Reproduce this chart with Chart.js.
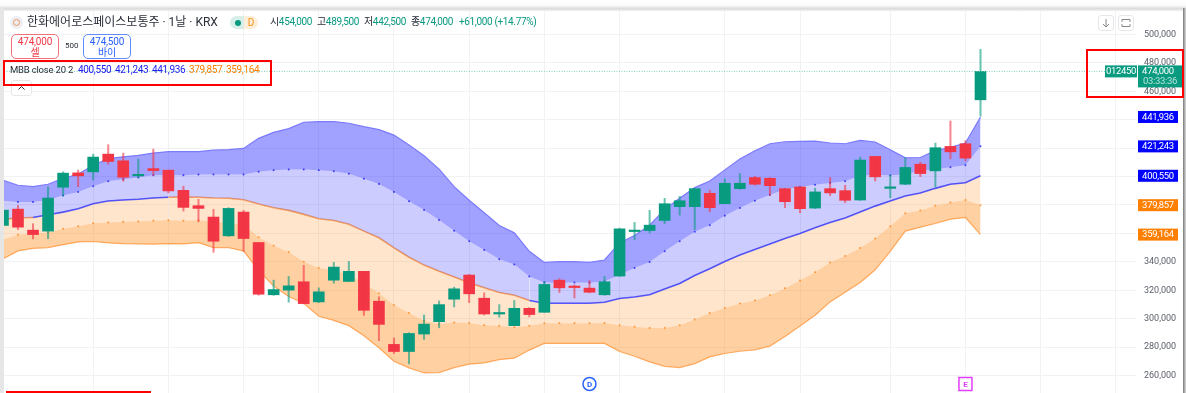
<!DOCTYPE html>
<html lang="ko">
<head>
<meta charset="utf-8">
<title>MBB close 20 2</title>
<script src="https://cdn.jsdelivr.net/npm/chart.js@4"></script>
<style>
  html, body { margin: 0; padding: 0; background: #fff; overflow: hidden; }
  body { width: 1186px; height: 393px; position: relative; font-family: Roboto, "Noto Sans CJK KR", sans-serif; }
  canvas { position: absolute; left: 0; top: 0; }
  .ui { position: absolute; white-space: nowrap; }
  .frame-top { left: 0; top: 0; width: 1186px; height: 11px; background: linear-gradient(#fff, #fafafa 50%, #dcdcdc 78%, #f0f0f0); }
  .frame-left { left: 0; top: 8px; width: 4px; height: 385px; background: #e6e6e6; }
  .frame-right { left: 1183px; top: 8px; width: 3px; height: 385px; background: linear-gradient(90deg, #777, #ddd); }
  .mark { border: 2px solid #f00; box-sizing: border-box; }
  .order { box-sizing: border-box; width: 48px; height: 25px; border-radius: 5px; background: #fff; text-align: center; font-size: 10px; line-height: 11px; padding-top: 1px; letter-spacing: -0.2px; }
  .btn { box-sizing: border-box; width: 16px; height: 16px; border: 1px solid #e6e7ea; border-radius: 3px; background: #fff; }
  .btn svg { display: block; }
  .num { position: absolute; top: 15px; font-size: 10px; line-height: 14px; letter-spacing: -0.35px; color: #2a2e39; white-space: nowrap; }
  .num span { color: #089981; }
  .val { position: absolute; top: 63px; font-size: 10px; line-height: 14px; letter-spacing: -0.35px; white-space: nowrap; }
</style>
</head>
<body>
<canvas id="chart" width="1186" height="399"></canvas>

<div class="ui frame-top"></div>
<div class="ui frame-left"></div>
<div class="ui frame-right"></div>

<div class="ui" style="left:10px;top:16px;width:13px;height:13px;border-radius:50%;background:#eceef3;"></div>
<div class="ui" style="left:13px;top:19px;width:7px;height:7px;border-radius:50%;border:1.5px solid #f0965a;box-sizing:border-box;"></div>
<div class="ui" style="left:27px;top:13px;font-size:12px;line-height:18px;color:#2a2e39;">한화에어로스페이스보통주 · 1날 · KRX</div>
<div class="ui" style="left:230px;top:16px;width:14px;height:13px;background:#d8efe9;border-radius:7px 0 0 7px;"></div>
<div class="ui" style="left:244px;top:16px;width:14px;height:13px;background:#fdeeda;border-radius:0 7px 7px 0;color:#f7931a;font-size:10px;line-height:13px;text-align:center;">D</div>
<div class="ui" style="left:235px;top:20px;width:6px;height:6px;border-radius:50%;background:#089981;"></div>
<div class="num" style="left:270px;">시<span>454,000</span></div>
<div class="num" style="left:317px;">고<span>489,500</span></div>
<div class="num" style="left:364px;">저<span>442,500</span></div>
<div class="num" style="left:411px;">종<span>474,000</span></div>
<div class="num" style="left:459px;"><span>+61,000 (+14.77%)</span></div>

<div class="ui order" style="left:11px;top:34px;border:1px solid #f2707c;color:#f23645;">474,000<br>셀</div>
<div class="ui" style="left:65px;top:41px;font-size:8px;line-height:10px;color:#2a2e39;">500</div>
<div class="ui order" style="left:83px;top:34px;border:1px solid #5f8dff;color:#2962ff;">474,500<br>바이</div>

<div class="ui" style="left:10px;top:63px;font-size:9.5px;line-height:14px;color:#2a2e39;letter-spacing:-0.2px;">MBB close 20 2</div>
<div class="val" style="left:78px;color:#2020f0;">400,550</div>
<div class="val" style="left:115px;color:#2020f0;">421,243</div>
<div class="val" style="left:152px;color:#2020f0;">441,936</div>
<div class="val" style="left:189px;color:#ff7f00;">379,857</div>
<div class="val" style="left:226px;color:#ff7f00;">359,164</div>
<div class="ui btn" style="left:11px;top:80px;width:21px;"><svg width="19" height="14"><path d="M6.5 8.5 L9.5 5.5 L12.5 8.5" fill="none" stroke="#333" stroke-width="1"/></svg></div>
<div class="ui btn" style="left:1098px;top:15px;"><svg width="14" height="14"><path d="M7 3 V11 M4 8 L7 11 L10 8" fill="none" stroke="#888" stroke-width="1"/></svg></div>
<div class="ui btn" style="left:1118px;top:15px;"><svg width="14" height="14"><path d="M3 6 V3.5 H11 V6 M3 8 V10.5 H11 V8" fill="none" stroke="#888" stroke-width="1"/></svg></div>

<div class="ui mark" style="left:3px;top:60px;width:269px;height:26px;"></div>
<div class="ui mark" style="left:1086px;top:49px;width:98px;height:49px;"></div>
<div class="ui" style="left:6px;top:391px;width:145px;height:2px;background:#f00;"></div>

<script>
const candleTickIdx = [5, 10, 15, 20, 25, 30, 35, 40, 47, 52, 58, 63, 68, 73];
const priceTicks = [260000, 280000, 300000, 320000, 340000, 360000, 380000, 400000, 420000, 440000, 460000, 480000, 500000];
const hiddenPriceLabels = [360000, 380000, 400000, 420000, 440000];

const opens = [365600, 377100, 362300, 361600, 392500, 402600, 403300, 415800, 411100, 400500,
  405600, 404500, 390300, 379500, 371500, 358300, 375000, 353600, 316800, 320100,
  326000, 311800, 327100, 326200, 333300, 312300, 281900, 276900, 289200, 297900,
  313700, 330700, 314400, 303300, 295100, 307300, 304500, 327100, 322400, 321500,
  316800, 330000, 361300, 362000, 369100, 378800, 378800, 388200, 380900, 391500,
  399300, 398800, 391500, 392700, 377800, 391500, 390100, 383500, 414200, 391700,
  394600, 408700, 404000, 421200, 423100, 454000];
const highs = [376400, 379700, 366800, 392700, 403300, 404500, 415800, 422400, 416500, 412300,
  419300, 404500, 393200, 384000, 376900, 378100, 376200, 353600, 327100, 329700,
  337500, 321700, 339600, 340300, 333300, 315400, 286400, 290100, 302600, 312500,
  322200, 331200, 318200, 309900, 312800, 307800, 326200, 328100, 323800, 326900,
  329700, 363700, 367700, 376200, 384700, 386100, 391500, 390400, 398400, 402100,
  400200, 399300, 391500, 392700, 391800, 399300, 393900, 413700, 414200, 401200,
  413200, 410100, 423600, 439100, 425200, 489500];
const lows = [365600, 362700, 356100, 356400, 386300, 392900, 397600, 408700, 396700, 399300,
  400900, 388500, 375700, 368200, 346700, 357800, 347400, 316500, 316500, 311600,
  310400, 311300, 325000, 326200, 302400, 284500, 275500, 268200, 285400, 293600,
  308300, 311300, 302600, 301000, 295100, 301200, 304500, 318400, 314600, 318200,
  316500, 329700, 355700, 360400, 367000, 372900, 362700, 375200, 380900, 391000,
  393900, 386800, 378100, 374500, 377600, 386600, 381600, 383300, 396900, 385100,
  394300, 400000, 392700, 412500, 411100, 442500];
const closes = [376400, 364400, 359200, 384900, 402400, 400500, 413700, 410600, 399500, 400900,
  404200, 389900, 378300, 377600, 354500, 377600, 356400, 317200, 320500, 323100,
  310600, 318900, 336300, 333300, 305900, 296000, 276900, 289600, 296200, 309900,
  321000, 317500, 303300, 304000, 307300, 302900, 324100, 321700, 321900, 318600,
  326000, 363200, 362000, 365800, 380900, 383000, 391500, 378100, 395300, 395300,
  394600, 393600, 382300, 377400, 389200, 388500, 383300, 411600, 399800, 392400,
  406400, 402100, 420300, 417400, 413000, 474000];

const upperBand = [397400, 393900, 392900, 394600, 398800, 401600, 408000, 412700, 413900, 414900,
  416500, 417500, 417500, 417500, 418600, 418900, 419800, 426900, 431100, 433700,
  438200, 438700, 438700, 437500, 435100, 433000, 429200, 422200, 414600, 405200,
  392900, 383300, 374500, 365600, 360400, 347400, 339600, 340100, 340100, 339600,
  341300, 353300, 358500, 365800, 376900, 384700, 392200, 396900, 404700, 412300,
  418200, 423100, 424500, 424800, 425000, 423600, 423100, 425500, 424300, 418900,
  413200, 413400, 418200, 420500, 423600, 441936];
const midUpper = [382800, 382100, 382100, 383500, 386600, 389200, 393200, 396700, 398100, 399300,
  400900, 400900, 400900, 401400, 401400, 401400, 401400, 403300, 404500, 405000,
  405000, 404500, 403800, 401900, 398400, 394800, 389200, 382600, 376400, 369400,
  361800, 354500, 348400, 341800, 338200, 329700, 325500, 325300, 325500, 325300,
  326200, 330900, 335600, 339900, 347400, 354500, 361100, 365800, 372400, 377800,
  383000, 387000, 391000, 392700, 394300, 395500, 396700, 400500, 401200, 400700,
  401600, 404000, 405200, 406600, 408000, 421243];
const basis = [369800, 370800, 371200, 373100, 375000, 377400, 380900, 382800, 383500, 384000,
  384900, 385400, 385600, 385400, 384900, 384700, 383700, 380700, 378100, 376200,
  373400, 370300, 369100, 366500, 361600, 356900, 349800, 343200, 337700, 333300,
  329300, 325300, 321700, 318400, 316500, 312800, 310900, 310900, 310900, 310900,
  311600, 314200, 315300, 316800, 320800, 324800, 330400, 335200, 340300, 344800,
  348600, 352600, 356400, 359900, 363900, 367700, 370800, 375000, 379200, 382800,
  386300, 388400, 391700, 394600, 395700, 400550];
const midLower = [355700, 359000, 359700, 360600, 363200, 365100, 367200, 367700, 368200, 368400,
  368900, 369300, 368900, 369300, 368200, 367500, 366300, 357300, 351400, 347000,
  340100, 335600, 334000, 330900, 325000, 317900, 309700, 304000, 298600, 296200,
  297400, 297000, 295300, 295100, 293900, 295100, 296700, 296700, 296700, 296700,
  297000, 295300, 294400, 293400, 293400, 295300, 299500, 304000, 307600, 310600,
  312800, 316500, 321500, 326900, 332600, 339600, 344100, 349800, 356400, 365100,
  374100, 376200, 379500, 381800, 383500, 379857];
const lowerBand = [342000, 347700, 349500, 350000, 352100, 354000, 354300, 353300, 352800, 352600,
  352400, 352800, 352600, 353500, 350000, 350000, 347700, 334000, 322900, 315600,
  310900, 301700, 298800, 295100, 288000, 279500, 270100, 265400, 261800, 262100,
  265600, 268000, 268900, 271200, 272200, 277900, 282600, 282600, 282600, 282600,
  282600, 276900, 273600, 269600, 266500, 265600, 268400, 273100, 275500, 277100,
  278100, 280700, 287500, 294800, 302400, 311800, 318600, 325500, 334400, 347400,
  361600, 364400, 367000, 370000, 371200, 359164];

const bandLabels = ["441,936", "421,243", "400,550", "379,857", "359,164"];
const bandLabelValues = [441936, 421243, 400550, 379857, 359164];
const bandLabelColors = ["#0000ff", "#0000ff", "#0000ff", "#ff7f00", "#ff7f00"];
const lastPrice = 474000;
const lastPriceText = "474,000";
const countdownText = "03:33:36";
const symbolCode = "012450";
const eventMarkers = [{ idx: 38, text: "D", color: "#2962ff" }, { idx: 63, text: "E", color: "#e040fb" }];

const UP_COLOR = "#089b7f";
const DOWN_COLOR = "#f23645";
const candleIdx = opens.map((_, i) => i - 1);

function pts(values) {
  return values.map((v, i) => ({ x: candleIdx[i], y: v }));
}

// the basis line changes colour along the way
function basisColor(ctx) {
  const i = candleIdx[ctx.p0DataIndex];
  if (i < 1) return "#ffa45c";
  if (i < 10) return "#5c5cf5";
  if (i < 34) return "#ffa45c";
  return "#5c5cf5";
}

// tags, dotted price line and event markers on top of the data
const overlayPlugin = {
  id: "overlay",
  afterDatasetsDraw(chart) {
    const { ctx, scales, chartArea } = chart;
    const y = scales.y, x = scales.x;
    ctx.save();

    const py = y.getPixelForValue(lastPrice);
    ctx.strokeStyle = "#7fcfbf";
    ctx.setLineDash([1, 1.5]);
    ctx.beginPath();
    ctx.moveTo(chartArea.left, py);
    ctx.lineTo(1105, py);
    ctx.stroke();
    ctx.setLineDash([]);

    ctx.textAlign = "center";
    ctx.textBaseline = "middle";
    ctx.font = "9.5px Roboto";
    ctx.letterSpacing = "-0.3px";
    bandLabelValues.forEach((v, i) => {
      const ty = y.getPixelForValue(v);
      ctx.fillStyle = bandLabelColors[i];
      ctx.fillRect(1138, ty - 6, 40, 12);
      ctx.fillStyle = "#fff";
      ctx.fillText(bandLabels[i], 1158, ty + 0.5);
    });

    ctx.fillStyle = UP_COLOR;
    ctx.fillRect(1105, py - 6, 32, 12);
    ctx.fillRect(1138, py - 6, 44, 22);
    ctx.fillStyle = "#fff";
    ctx.fillText(symbolCode, 1121, py + 0.5);
    ctx.fillText(lastPriceText, 1158, py + 0.5);
    ctx.fillStyle = "#b5e3d9";
    ctx.fillText(countdownText, 1160, py + 10.5);
    ctx.letterSpacing = "0px";

    ctx.font = "bold 8px Roboto";
    eventMarkers.forEach(m => {
      const mx = x.getPixelForValue(m.idx);
      ctx.strokeStyle = m.color;
      ctx.fillStyle = "#fff";
      ctx.lineWidth = 1.5;
      ctx.beginPath();
      if (m.text === "D") ctx.arc(mx, 384, 6.5, 0, Math.PI * 2);
      else ctx.rect(mx - 6.5, 377.5, 13, 13);
      ctx.fill();
      ctx.stroke();
      ctx.fillStyle = m.color;
      ctx.fillText(m.text, mx, 384.5);
    });
    ctx.restore();
  }
};

new Chart(document.getElementById("chart").getContext("2d"), {
  data: {
    datasets: [
      { type: "line", label: "upper", data: pts(upperBand), order: 1, borderColor: "#7a7afc", borderWidth: 1.2, pointRadius: 0, tension: 0, fill: { target: "+1" }, backgroundColor: "rgba(0,0,255,0.37)" },
      { type: "line", label: "mid upper", data: pts(midUpper), order: 1, borderWidth: 0, pointRadius: 1, pointBackgroundColor: "#4a4af5", pointBorderWidth: 0, fill: { target: "+1" }, backgroundColor: "rgba(0,0,255,0.2)" },
      { type: "line", label: "basis", data: pts(basis), order: 1, borderColor: "#5c5cf5", borderWidth: 1.6, pointRadius: 0, segment: { borderColor: basisColor }, fill: { target: "+1" }, backgroundColor: "rgba(255,127,0,0.2)" },
      { type: "line", label: "mid lower", data: pts(midLower), order: 1, borderWidth: 0, pointRadius: 1, pointBackgroundColor: "#ff9a40", pointBorderWidth: 0, fill: { target: "+1" }, backgroundColor: "rgba(255,127,0,0.37)" },
      { type: "line", label: "lower", data: pts(lowerBand), order: 1, borderColor: "#ffb273", borderWidth: 1.2, pointRadius: 0, fill: false },
      {
        type: "bar", label: "wick", order: 0, barThickness: 1.4, grouped: false,
        data: candleIdx.map((x, i) => ({ x, y: [lows[i], highs[i]] })),
        backgroundColor: candleIdx.map((_, i) => closes[i] >= opens[i] ? "rgba(8,155,127,0.6)" : "rgba(242,54,69,0.6)")
      },
      {
        type: "bar", label: "body", order: 0, barThickness: 11, grouped: false, minBarLength: 1.5,
        data: candleIdx.map((x, i) => ({ x, y: [opens[i], closes[i]] })),
        backgroundColor: candleIdx.map((_, i) => closes[i] >= opens[i] ? UP_COLOR : DOWN_COLOR)
      }
    ]
  },
  options: {
    responsive: false,
    animation: false,
    events: [],
    layout: { padding: { left: 4, right: 6, top: 10, bottom: 0 } },
    plugins: { legend: { display: false }, tooltip: { enabled: false }, title: { display: false } },
    scales: {
      x: {
        type: "linear",
        offset: false,
        min: -0.93,
        max: 74.34,
        border: { display: false },
        grid: { color: "#f1f2f4", drawTicks: false, offset: false },
        ticks: { display: false },
        afterBuildTicks(axis) { axis.ticks = candleTickIdx.map(value => ({ value })); },
        afterFit(axis) { axis.height = 0; axis.paddingLeft = 0; axis.paddingRight = 0; }
      },
      y: {
        position: "right",
        min: 246300,
        max: 517200,
        border: { display: false },
        grid: { color: "#f1f2f4", drawTicks: false },
        afterBuildTicks(axis) { axis.ticks = priceTicks.map(value => ({ value })); },
        afterFit(axis) { axis.width = 44; axis.paddingTop = 0; axis.paddingBottom = 0; },
        ticks: {
          padding: 8,
          color: "#5d606b",
          font: { size: 9, family: "Roboto" },
          callback: v => hiddenPriceLabels.includes(v) ? "" : v.toLocaleString("en-US")
        }
      }
    }
  },
  plugins: [overlayPlugin]
});
</script>
</body>
</html>
